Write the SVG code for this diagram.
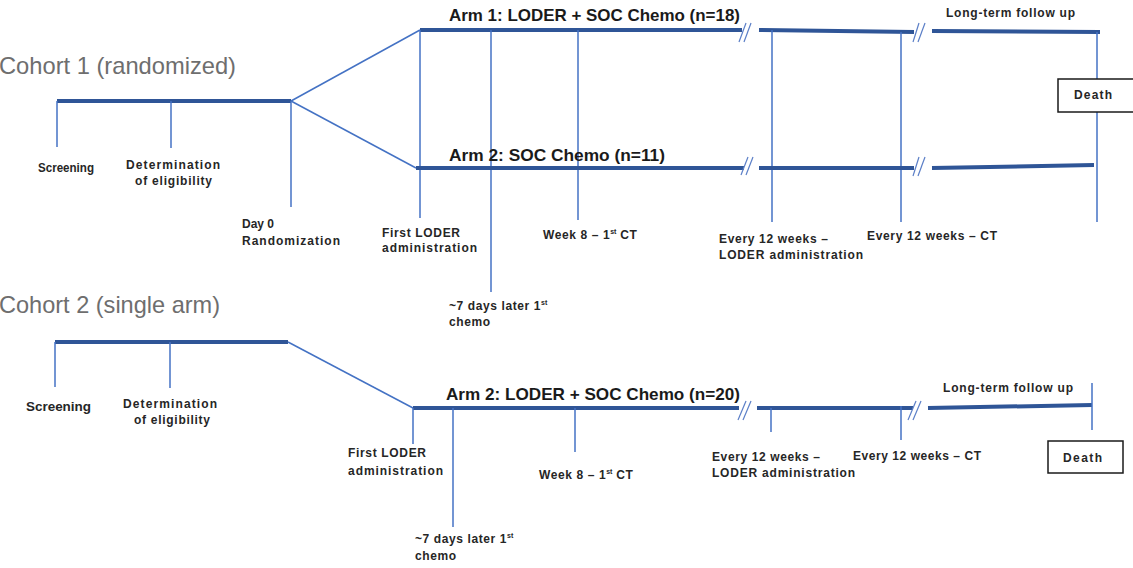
<svg xmlns="http://www.w3.org/2000/svg" width="1133" height="568" viewBox="0 0 1133 568">
<style>
.bg{fill:#ffffff}
.thick{stroke:#2F5597;stroke-width:4;fill:none;stroke-linecap:butt}
.thin{stroke:#4472C4;stroke-width:1.5;fill:none}
.brk{stroke:#5B7FC7;stroke-width:1.2;fill:none}
.title{font-family:"Liberation Sans",Arial,sans-serif;font-size:24px;fill:#6e6e6e}
.arm{font-family:"Liberation Sans",Arial,sans-serif;font-size:17px;font-weight:bold;fill:#1a1a1a}
.lbl{font-family:"Liberation Sans",Arial,sans-serif;font-size:12px;font-weight:bold;fill:#262626}
.ls{letter-spacing:0.6px}
.box{fill:#ffffff;stroke:#1a1a1a;stroke-width:1.5}
.sup{font-size:7px;letter-spacing:0}
</style>
<rect class="bg" x="0" y="0" width="1133" height="568"/>

<g id="connectors">
  <!-- Cohort 1 -->
  <line class="thick" x1="57" y1="101" x2="291" y2="101"/>
  <line class="thin" x1="57" y1="101" x2="57" y2="147"/>
  <line class="thin" x1="171" y1="101" x2="171" y2="148"/>
  <line class="thin" x1="291" y1="101" x2="291" y2="207"/>
  <line class="thin" x1="291" y1="101" x2="420" y2="30"/>
  <line class="thin" x1="291" y1="101" x2="416" y2="168"/>
  <!-- Arm 1 -->
  <line class="thick" x1="420" y1="30" x2="742" y2="30"/>
  <line class="brk" x1="739" y1="42" x2="746" y2="23"/>
  <line class="brk" x1="744" y1="42" x2="751" y2="23"/>
  <line class="thick" x1="759" y1="30" x2="914" y2="32"/>
  <line class="brk" x1="913" y1="42" x2="919" y2="23"/>
  <line class="brk" x1="918" y1="42" x2="925" y2="23"/>
  <line class="thick" x1="932" y1="31" x2="1100" y2="32"/>
  <line class="thin" x1="420" y1="30" x2="420" y2="218"/>
  <line class="thin" x1="491" y1="30" x2="491" y2="292"/>
  <line class="thin" x1="578" y1="30" x2="578" y2="220"/>
  <line class="thin" x1="772" y1="30" x2="772" y2="222"/>
  <line class="thin" x1="901" y1="32" x2="901" y2="222"/>
  <line class="thin" x1="1097" y1="32" x2="1097" y2="222"/>
  <!-- Arm 2 (cohort 1) -->
  <line class="thick" x1="416" y1="168" x2="744" y2="168"/>
  <line class="brk" x1="741" y1="175" x2="748" y2="157"/>
  <line class="brk" x1="746" y1="175" x2="753" y2="157"/>
  <line class="thick" x1="759" y1="168" x2="914" y2="168"/>
  <line class="brk" x1="913" y1="176" x2="919" y2="157"/>
  <line class="brk" x1="918" y1="176" x2="925" y2="157"/>
  <line class="thick" x1="932" y1="168" x2="1094" y2="165"/>
  <!-- Cohort 2 -->
  <line class="thick" x1="55" y1="342" x2="288" y2="342"/>
  <line class="thin" x1="55" y1="342" x2="55" y2="387"/>
  <line class="thin" x1="170" y1="342" x2="170" y2="388"/>
  <line class="thin" x1="288" y1="342" x2="413" y2="408"/>
  <line class="thick" x1="413" y1="408" x2="739" y2="408"/>
  <line class="brk" x1="738" y1="420" x2="746" y2="401"/>
  <line class="brk" x1="743" y1="420" x2="751" y2="401"/>
  <line class="thick" x1="757" y1="408" x2="913" y2="408"/>
  <line class="brk" x1="908" y1="420" x2="916" y2="401"/>
  <line class="brk" x1="913" y1="420" x2="921" y2="401"/>
  <line class="thick" x1="928" y1="408" x2="1092" y2="405"/>
  <line class="thin" x1="413" y1="408" x2="413" y2="444"/>
  <line class="thin" x1="453" y1="408" x2="453" y2="527"/>
  <line class="thin" x1="575" y1="408" x2="575" y2="452"/>
  <line class="thin" x1="771" y1="408" x2="771" y2="432"/>
  <line class="thin" x1="901" y1="406" x2="901" y2="440"/>
  <line class="thin" x1="1092" y1="383" x2="1092" y2="430"/>
</g>

<g id="cohort1-title"><text class="title" x="-1" y="74" textLength="237" lengthAdjust="spacingAndGlyphs">Cohort 1 (randomized)</text></g>
<g id="c1-screening"><text class="lbl" x="38" y="172" textLength="56" lengthAdjust="spacingAndGlyphs">Screening</text></g>
<g id="c1-eligibility">
  <text class="lbl" x="126" y="169" textLength="94" lengthAdjust="spacing">Determination</text>
  <text class="lbl" x="135" y="185" textLength="77" lengthAdjust="spacing">of eligibility</text>
</g>
<g id="c1-day0">
  <text class="lbl" x="242" y="228">Day 0</text>
  <text class="lbl" x="242" y="245" textLength="98" lengthAdjust="spacing">Randomization</text>
</g>
<g id="c1-arm1"><text class="arm" x="449" y="21" textLength="291" lengthAdjust="spacingAndGlyphs">Arm 1: LODER + SOC Chemo (n=18)</text></g>
<g id="c1-arm2"><text class="arm" x="449" y="161" textLength="216" lengthAdjust="spacingAndGlyphs">Arm 2: SOC Chemo (n=11)</text></g>
<g id="c1-first-loder">
  <text class="lbl" x="382" y="237" textLength="78" lengthAdjust="spacing">First LODER</text>
  <text class="lbl" x="382" y="252" textLength="95" lengthAdjust="spacing">administration</text>
</g>
<g id="c1-chemo">
  <text class="lbl ls" x="449" y="310">~7 days later 1<tspan class="sup" dy="-5">st</tspan></text>
  <text class="lbl ls" x="449" y="326">chemo</text>
</g>
<g id="c1-week8"><text class="lbl ls" x="543" y="239">Week 8 – 1<tspan class="sup" dy="-5">st</tspan><tspan dy="5"> CT</tspan></text></g>
<g id="c1-every12-loder">
  <text class="lbl" x="719" y="243" textLength="109" lengthAdjust="spacing">Every 12 weeks –</text>
  <text class="lbl" x="719" y="259" textLength="144" lengthAdjust="spacing">LODER administration</text>
</g>
<g id="c1-every12-ct"><text class="lbl" x="867" y="240" textLength="130" lengthAdjust="spacing">Every 12 weeks – CT</text></g>
<g id="c1-followup"><text class="lbl" x="946" y="17" textLength="129" lengthAdjust="spacing">Long-term follow up</text></g>
<g id="c1-death">
  <rect class="box" x="1058" y="79" width="90" height="33"/>
  <text class="lbl" x="1074" y="99" textLength="38" lengthAdjust="spacing">Death</text>
</g>

<g id="cohort2-title"><text class="title" x="-1" y="313" textLength="221" lengthAdjust="spacingAndGlyphs">Cohort 2 (single arm)</text></g>
<g id="c2-screening"><text class="lbl" x="26" y="411" textLength="65" lengthAdjust="spacingAndGlyphs">Screening</text></g>
<g id="c2-eligibility">
  <text class="lbl" x="123" y="408" textLength="94" lengthAdjust="spacing">Determination</text>
  <text class="lbl" x="134" y="424" textLength="76" lengthAdjust="spacing">of eligibility</text>
</g>
<g id="c2-arm"><text class="arm" x="446" y="400" textLength="294" lengthAdjust="spacingAndGlyphs">Arm 2: LODER + SOC Chemo (n=20)</text></g>
<g id="c2-first-loder">
  <text class="lbl" x="348" y="457" textLength="78" lengthAdjust="spacing">First LODER</text>
  <text class="lbl" x="348" y="475" textLength="95" lengthAdjust="spacing">administration</text>
</g>
<g id="c2-chemo">
  <text class="lbl ls" x="415" y="543">~7 days later 1<tspan class="sup" dy="-5">st</tspan></text>
  <text class="lbl ls" x="415" y="560">chemo</text>
</g>
<g id="c2-week8"><text class="lbl ls" x="539" y="479">Week 8 – 1<tspan class="sup" dy="-5">st</tspan><tspan dy="5"> CT</tspan></text></g>
<g id="c2-every12-loder">
  <text class="lbl" x="712" y="461" textLength="108" lengthAdjust="spacing">Every 12 weeks –</text>
  <text class="lbl" x="712" y="477" textLength="143" lengthAdjust="spacing">LODER administration</text>
</g>
<g id="c2-every12-ct"><text class="lbl" x="853" y="460" textLength="128" lengthAdjust="spacing">Every 12 weeks – CT</text></g>
<g id="c2-followup"><text class="lbl" x="943" y="392" textLength="130" lengthAdjust="spacing">Long-term follow up</text></g>
<g id="c2-death">
  <rect class="box" x="1048" y="441" width="75" height="32"/>
  <text class="lbl" x="1063" y="462" textLength="39" lengthAdjust="spacing">Death</text>
</g>
</svg>
